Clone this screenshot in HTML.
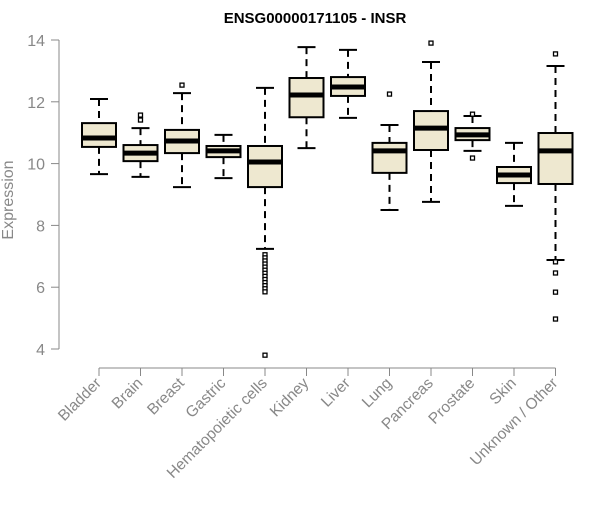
<!DOCTYPE html>
<html><head><meta charset="utf-8"><style>
body{margin:0;background:#fff}
svg{font-family:"Liberation Sans",Arial,sans-serif}
</style></head><body>
<svg id="chart" width="600" height="500">
<text x="315" y="23" text-anchor="middle" font-weight="bold" font-size="15">ENSG00000171105 - INSR</text>
<g id="yaxis"></g>
<g id="xaxis"></g>
<g id="boxes"></g>
<text transform="translate(13,200) rotate(-90)" text-anchor="middle" fill="#888" font-size="16">Expression</text>
</svg>
<script>
const categories=["Bladder","Brain","Breast","Gastric","Hematopoietic cells","Kidney","Liver","Lung","Pancreas","Prostate","Skin","Unknown / Other"];
const lowW=[9.66,9.57,9.24,9.53,7.24,10.5,11.48,8.5,8.76,10.41,8.63,6.88];
const q1=[10.54,10.08,10.34,10.21,9.24,11.5,12.19,9.7,10.44,10.76,9.37,9.34];
const med=[10.83,10.34,10.73,10.41,10.05,12.22,12.48,10.41,11.15,10.93,9.63,10.41];
const q3=[11.31,10.6,11.09,10.57,10.57,12.77,12.8,10.67,11.7,11.15,9.89,10.99];
const highW=[12.09,11.15,12.28,10.93,12.45,13.77,13.68,11.25,13.29,11.54,10.67,13.16];
const outliers=[[],[11.57,11.41],[12.54],[],[7.05,6.95,6.85,6.75,6.65,6.55,6.45,6.35,6.25,6.15,6.05,5.95,5.85,3.8],[],[],[12.25],[13.9],[11.6,10.18],[],[13.55,6.82,6.46,5.84,4.97]];
const yTicks=[4,6,8,10,12,14];
const NS="http://www.w3.org/2000/svg";
const y=v=>40+(14-v)*30.9;
const x=i=>99+i*41.5;
function mk(tag,attrs,parent){const e=document.createElementNS(NS,tag);for(const k in attrs)e.setAttribute(k,attrs[k]);parent.appendChild(e);return e;}
const ya=document.getElementById('yaxis');
mk('line',{x1:59,x2:59,y1:y(4),y2:y(14),stroke:'#888'},ya);
yTicks.forEach(t=>{
 mk('line',{x1:51,x2:59,y1:y(t),y2:y(t),stroke:'#888'},ya);
 const tx=mk('text',{x:45,y:y(t)+6,'text-anchor':'end',fill:'#888','font-size':16},ya);
 tx.textContent=t;
 
 
});
const xa=document.getElementById('xaxis');
mk('line',{x1:x(0),x2:x(11),y1:368,y2:368,stroke:'#888'},xa);
categories.forEach((c,i)=>{
 mk('line',{x1:x(i),x2:x(i),y1:368,y2:376,stroke:'#888'},xa);
 const tx=mk('text',{transform:`translate(${x(i)+3},${384}) rotate(-45)`,'text-anchor':'end',fill:'#888','font-size':15.5},xa);
 tx.textContent=c;
 
 
});
const bx=document.getElementById('boxes');
categories.forEach((c,i)=>{
 const g=mk('g',{},bx);
 
 
 const cx=x(i),hw=17;
 mk('line',{x1:cx,x2:cx,y1:y(highW[i]),y2:y(q3[i]),stroke:'#000','stroke-width':2,'stroke-dasharray':'7,5'},g);
 mk('line',{x1:cx,x2:cx,y1:y(q1[i]),y2:y(lowW[i]),stroke:'#000','stroke-width':2,'stroke-dasharray':'7,5'},g);
 mk('line',{x1:cx-9,x2:cx+9,y1:y(highW[i]),y2:y(highW[i]),stroke:'#000','stroke-width':2},g);
 mk('line',{x1:cx-9,x2:cx+9,y1:y(lowW[i]),y2:y(lowW[i]),stroke:'#000','stroke-width':2},g);
 mk('rect',{x:cx-hw,y:y(q3[i]),width:hw*2,height:y(q1[i])-y(q3[i]),fill:'#EEE8D0',stroke:'#000','stroke-width':2},g);
 mk('line',{x1:cx-hw,x2:cx+hw,y1:y(med[i]),y2:y(med[i]),stroke:'#000','stroke-width':5},g);
 outliers[i].forEach(o=>{
  const p=mk('rect',{x:cx-2,y:y(o)-2,width:4,height:4,fill:'#fff',stroke:'#000','stroke-width':1.3},g);
  
  
 });
});
</script>
</body></html>
